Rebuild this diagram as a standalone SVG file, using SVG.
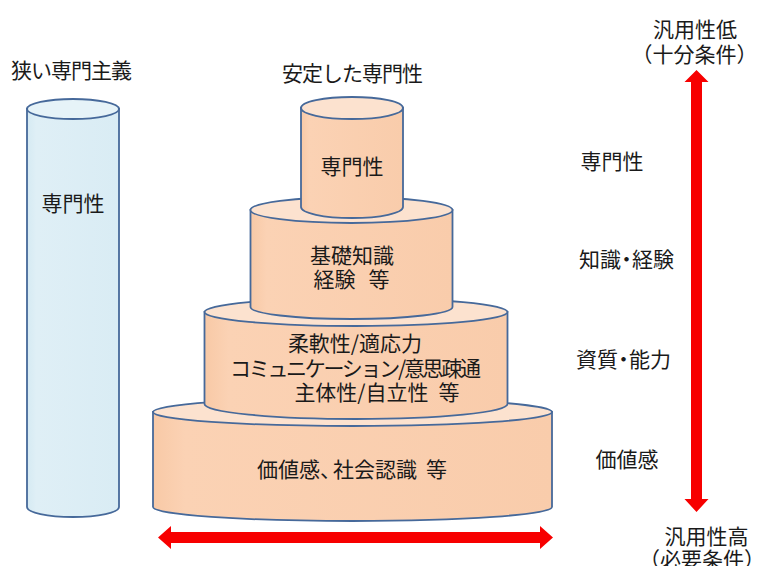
<svg xmlns="http://www.w3.org/2000/svg" width="757" height="566" viewBox="0 0 757 566">
<defs>
<style>
.t{font-family:"Noto Sans CJK JP","Noto Sans CJK SC",sans-serif;font-size:21px;fill:#1a1a1a;text-anchor:middle;dominant-baseline:central}
.ob{fill:url(#og);stroke:#46699a;stroke-width:1.8}
.ot{fill:#fce2cf;stroke:#46699a;stroke-width:1.8}
.bb{fill:url(#bg);stroke:#46699a;stroke-width:1.8}
.bt{fill:#e6f3f8;stroke:#46699a;stroke-width:1.8}
.arr{fill:#f70000}
</style>
<linearGradient id="og" x1="0" y1="0" x2="1" y2="0">
<stop offset="0" stop-color="#f8c9a6"/><stop offset="0.08" stop-color="#fbd2b4"/><stop offset="1" stop-color="#f9ccab"/>
</linearGradient>
<linearGradient id="bg" x1="0" y1="0" x2="1" y2="0">
<stop offset="0" stop-color="#d5eaf3"/><stop offset="0.1" stop-color="#dfeff6"/><stop offset="1" stop-color="#d9ecf4"/>
</linearGradient>
</defs>
<rect width="757" height="566" fill="#ffffff"/>

<g id="title-left"><text class="t" x="71.5" y="69" textLength="121" lengthAdjust="spacing">狭い専門主義</text></g>
<g id="title-center"><text class="t" x="352.5" y="71.5" textLength="141" lengthAdjust="spacing">安定した専門性</text></g>

<g id="cyl-narrow">
<path class="bb" d="M27,109 L27,507 A46,10 0 0 0 119,507 L119,109 Z"/>
<ellipse class="bt" cx="73" cy="109" rx="46" ry="10"/>
<text class="t" x="73" y="202">専門性</text>
</g>

<g id="cyl-values">
<path class="ob" d="M153,412 L153,507 A199.5,14 0 0 0 552,507 L552,412 Z"/>
<ellipse class="ot" cx="352.5" cy="412" rx="199.5" ry="14"/>
<text class="t" x="352" y="468">価値感、<tspan dx="-8">社会認識</tspan><tspan dx="9">等</tspan></text>
</g>

<g id="cyl-abilities">
<path class="ob" d="M204.5,312 L204.5,404 A151.5,15 0 0 0 507.5,404 L507.5,312 Z"/>
<ellipse class="ot" cx="356" cy="312" rx="151.5" ry="14"/>
<text class="t" x="355" y="342">柔軟性/適応力</text>
<text class="t" x="355.5" y="367" textLength="251" lengthAdjust="spacing">コミュニケーション/意思疎通</text>
<text class="t" x="377" y="391">主体性/自立性<tspan dx="10">等</tspan></text>
</g>

<g id="cyl-knowledge">
<path class="ob" d="M250.5,210 L250.5,307 A101,12 0 0 0 452.5,307 L452.5,210 Z"/>
<ellipse class="ot" cx="351.5" cy="210" rx="101" ry="13"/>
<text class="t" x="352" y="254">基礎知識</text>
<text class="t" x="351.5" y="278">経験<tspan dx="13">等</tspan></text>
</g>

<g id="cyl-expertise">
<path class="ob" d="M301,108 L301,207 A51,11 0 0 0 403,207 L403,108 Z"/>
<ellipse class="ot" cx="352" cy="108" rx="51" ry="11"/>
<text class="t" x="352" y="165">専門性</text>
</g>

<g id="labels-right">
<text class="t" x="612" y="160">専門性</text>
<text class="t" x="626.5" y="258">知識<tspan dx="-5">・</tspan><tspan dx="-5">経験</tspan></text>
<text class="t" x="623.5" y="358">資質<tspan dx="-5">・</tspan><tspan dx="-5">能力</tspan></text>
<text class="t" x="627" y="458">価値感</text>
</g>

<g id="label-top">
<text class="t" x="695" y="28">汎用性低</text>
<text class="t" x="694.5" y="53">（十分条件）</text>
</g>
<g id="label-bottom">
<text class="t" x="706.5" y="535">汎用性高</text>
<text class="t" x="702" y="558">（必要条件）</text>
</g>

<g id="connectors">
<polygon class="arr" points="696.5,70 708.5,82 702,82 702,499 708.5,499 696.5,512 684.5,499 691,499 691,82 684.5,82"/>
<polygon class="arr" points="158,537.5 171,526 171,532 540,532 540,526 553,537.5 540,549 540,543 171,543 171,549"/>
</g>
</svg>
